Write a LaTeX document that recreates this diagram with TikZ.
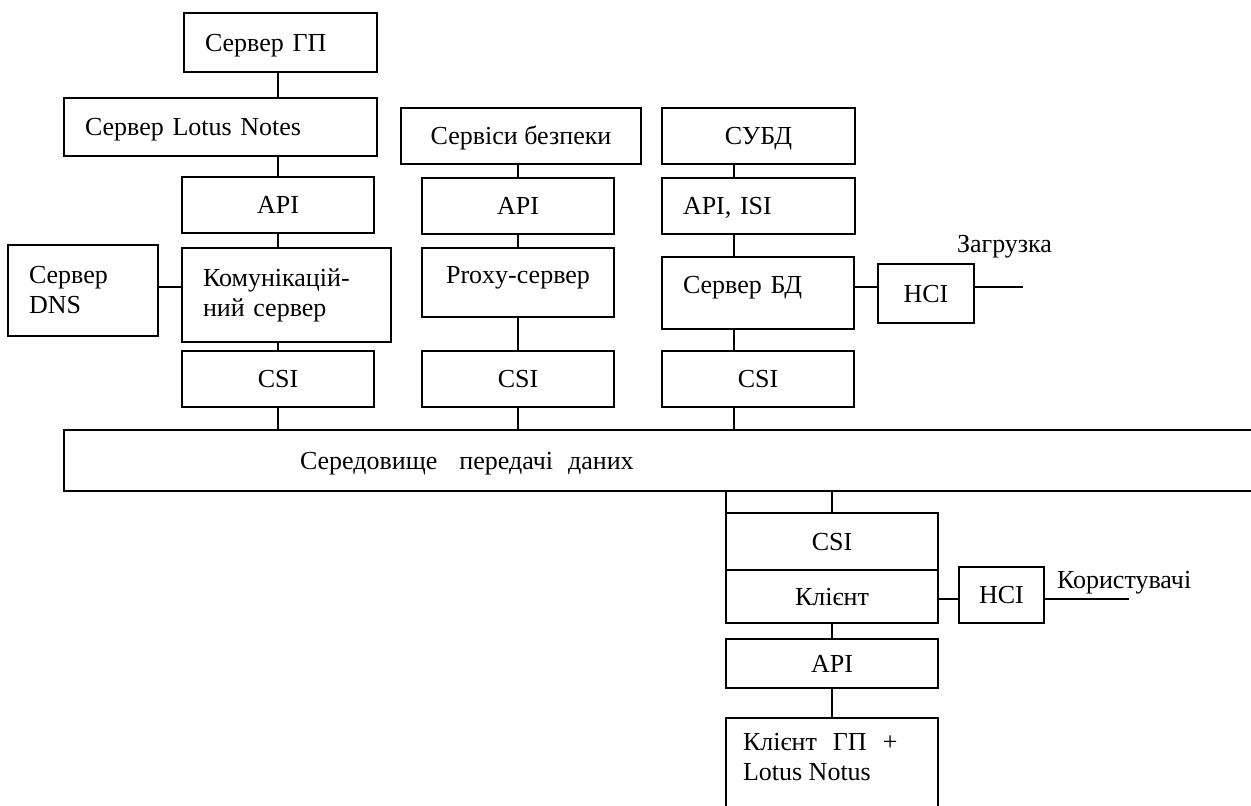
\documentclass[tikz,border=0pt]{standalone}
\usepackage{fontspec}
\setmainfont{Liberation Serif}
\usepackage{tikz}

\begin{document}
\begin{tikzpicture}[x=1pt, y=-1pt, line width=2pt,
    font=\fontsize{26}{30}\selectfont,
    blk/.style={draw, inner sep=0pt, outer sep=0pt},
    one/.style={blk, text height=17pt, text depth=0pt},
    lft/.style={align=left, inner xsep=21pt},
    tall/.style={text depth=16pt}]
    \useasboundingbox (0,0) rectangle (1251,806);
    \clip (0,0) rectangle (1251,806);

    % columns and rows of the connectors
    \coordinate (colA) at (278,0);
    \coordinate (colB) at (518,0);
    \coordinate (colC) at (734,0);
    \coordinate (colD) at (832,0);
    \coordinate (rowA) at (0,287);
    \coordinate (rowB) at (0,599);

    % server of lotus notes
    \node[one, lft, text width=151pt, minimum height=59pt] (srvgp) at (280.5,42.5) {Сервер ГП};
    \node[one, lft, text width=271pt, minimum height=58pt] (lotus) at (220.5,127) {Сервер Lotus Notes};
    \node[one, minimum width=192pt, minimum height=56pt] (api1) at (278,205) {API};
    \node[blk, lft, text width=108pt, minimum height=91pt] (dns) at (83,290.5) {Сервер\\DNS};
    \node[blk, lft, text width=167pt, minimum height=94pt] (komm) at (286.5,295) {Комунікацій-\\ний сервер};
    \node[one, minimum width=192pt, minimum height=56pt] (csi1) at (278,379) {CSI};

    % proxy
    \node[one, minimum width=240pt, minimum height=56pt] (secur) at (521,136) {Сервіси безпеки};
    \node[one, minimum width=192pt, minimum height=56pt] (api2) at (518,206) {API};
    \node[one, tall, minimum width=192pt, minimum height=69pt] (proxy) at (518,282.5) {Proxy-сервер};
    \node[one, minimum width=192pt, minimum height=56pt] (csi2) at (518,379) {CSI};

    % database
    \node[one, minimum width=193pt, minimum height=56pt] (subd) at (758.5,136) {СУБД};
    \node[one, lft, text width=151pt, minimum height=56pt] (apiisi) at (758.5,206) {API, ISI};
    \node[one, lft, tall, text width=150pt, minimum height=72pt] (bd) at (758,293) {Сервер БД};
    \node[one, minimum width=96pt, minimum height=59pt] (hci1) at (926,293.5) {HCI};
    \node[one, minimum width=192pt, minimum height=56pt] (csi3) at (758,379) {CSI};
    \coordinate (loadend) at (1023,287);
    \node[inner sep=0pt, anchor=base east] (load) at (1053,252) {Загрузка};

    \node[one, anchor=west, align=left, inner xsep=236pt, text width=768pt, minimum height=61pt] (medium) at (64,460.5)
        {Середовище\hspace{22pt}передачі\hspace{15pt}даних};

    % client
    \node[one, minimum width=212pt, minimum height=57pt] (csi4) at (832,541.5) {CSI};
    \node[one, minimum width=212pt, minimum height=53pt] (client) at (832,596.5) {Клієнт};
    \node[one, minimum width=85pt, minimum height=56pt] (hci2) at (1001.5,595) {HCI};
    \node[one, minimum width=212pt, minimum height=49pt] (api4) at (832,663.5) {API};
    \node[blk, anchor=north, inner xsep=17pt, inner ysep=15pt] (final) at (832,718)
        {\parbox[c][100pt][t]{178pt}{\raggedright Клієнт\hspace{16pt}ГП\hspace{16pt}+\\Lotus Notus}};
    \coordinate (userend) at (1129,599);
    \node[inner sep=0pt, anchor=base west] (users) at (1056,588) {Користувачі};

    \foreach \a/\b in {srvgp/lotus, lotus/api1, api1/komm, komm/csi1, csi1/medium}
        \draw (colA |- \a.south) -- (colA |- \b.north);
    \foreach \a/\b in {secur/api2, api2/proxy, proxy/csi2, csi2/medium}
        \draw (colB |- \a.south) -- (colB |- \b.north);
    \foreach \a/\b in {subd/apiisi, apiisi/bd, bd/csi3, csi3/medium}
        \draw (colC |- \a.south) -- (colC |- \b.north);
    \foreach \a/\b in {medium/csi4, client/api4, api4/final}
        \draw (colD |- \a.south) -- (colD |- \b.north);
    \draw (medium.south -| csi4.west) -- (csi4.north west);

    \draw (rowA -| dns.east) -- (rowA -| komm.west);
    \draw (rowA -| bd.east) -- (rowA -| hci1.west);
    \draw (hci1.east |- loadend) -- (loadend);
    \draw (rowB -| client.east) -- (rowB -| hci2.west);
    \draw (hci2.east |- userend) -- (userend);
\end{tikzpicture}
\end{document}
